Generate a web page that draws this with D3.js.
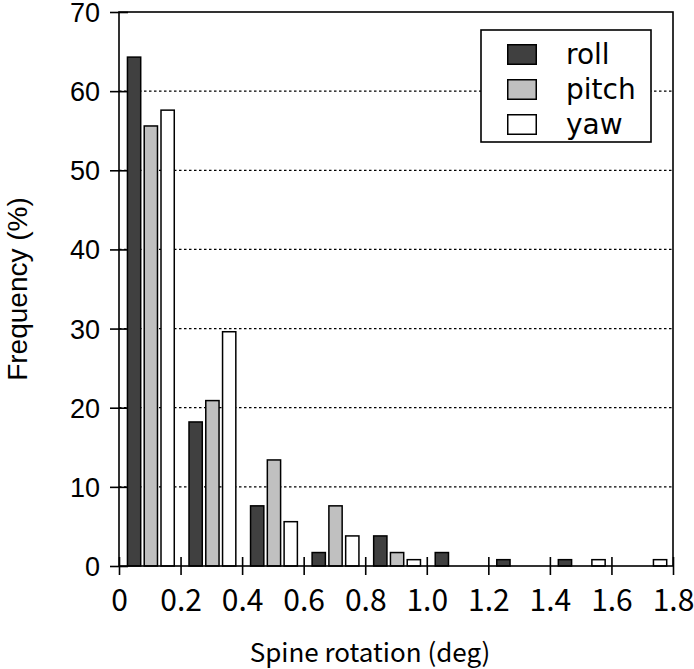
<!DOCTYPE html>
<html lang="en">
	<head>
		<meta charset="utf-8">
		<title>Spine rotation histogram</title>
		<script type="text/javascript" src="https://cdn.jsdelivr.net/npm/d3@7"></script>
		<style type="text/css">
			body {
				margin: 0;
				background-color: #ffffff;
			}
			svg { display: block; }
		</style>
	</head>
	<body>
		<script type="text/javascript">

			//Bin starts (deg), each bin is 0.2 wide
			var binStarts = [0, 0.2, 0.4, 0.6, 0.8, 1.0, 1.2, 1.4, 1.6];

			//Series values (%)
			var series = ["roll", "pitch", "yaw"];
			var roll  = [64.3, 18.2, 7.6, 1.7, 3.8, 1.7, 0.8, 0.8, 0];
			var pitch = [55.6, 20.9, 13.4, 7.6, 1.7, 0, 0, 0, 0];
			var yaw   = [57.6, 29.6, 5.6, 3.8, 0.8, 0, 0, 0.8, 0.8];

			//Tick labels
			var xTicks = [0, 0.2, 0.4, 0.6, 0.8, 1.0, 1.2, 1.4, 1.6, 1.8];
			var yTicks = [0, 10, 20, 30, 40, 50, 60, 70];

			var colors = {roll: "#404040", pitch: "#c0c0c0", yaw: "#ffffff"};
			var values = {roll: roll, pitch: pitch, yaw: yaw};

			//Width and height
			var w = 694;
			var h = 669;
			var pLeft = 119, pRight = 673, pTop = 12, pBottom = 566;

			var svg = d3.select("body")
						.append("svg")
						.attr("width", w)
						.attr("height", h);

			var xScale = d3.scaleLinear()
						   .domain([0, 1.8])
						   .range([pLeft, pRight]);

			var yScale = d3.scaleLinear()
						   .domain([0, 70])
						   .range([pBottom, pTop]);

			//Bars inside one bin
			var inner = d3.scaleBand()
						  .domain(series)
						  .range([xScale(0.025) - xScale(0), xScale(0.182) - xScale(0)])
						  .paddingInner(0.12);

			//Dotted grid lines
			svg.append("g")
				.selectAll("line")
				.data(yTicks.filter(function(d) { return d > 0 && d < 70; }))
				.enter()
				.append("line")
				.attr("x1", pLeft)
				.attr("x2", pRight)
				.attr("y1", function(d) { return yScale(d); })
				.attr("y2", function(d) { return yScale(d); })
				.attr("stroke", "#000")
				.attr("stroke-width", 1.2)
				.attr("stroke-dasharray", "2.5,2.5");

			//Flatten data for bars
			var bars = [];
			binStarts.forEach(function(b, i) {
				series.forEach(function(s) {
					if (values[s][i] > 0) {
						bars.push({bin: b, key: s, value: values[s][i]});
					}
				});
			});

			var sw = 1.5;
			svg.append("g")
				.selectAll("rect")
				.data(bars)
				.enter()
				.append("rect")
				.attr("x", function(d) { return xScale(d.bin) + inner(d.key) + sw / 2; })
				.attr("y", function(d) { return yScale(d.value); })
				.attr("width", inner.bandwidth() - sw)
				.attr("height", function(d) { return yScale(0) - yScale(d.value); })
				.attr("fill", function(d) { return colors[d.key]; })
				.attr("stroke", "#000")
				.attr("stroke-width", sw);

			//Plot frame
			svg.append("rect")
				.attr("x", pLeft)
				.attr("y", pTop)
				.attr("width", pRight - pLeft)
				.attr("height", pBottom - pTop)
				.attr("fill", "none")
				.attr("stroke", "#000")
				.attr("stroke-width", 1.6);

			//X axis
			var xAxis = d3.axisBottom(xScale)
						  .tickValues(xTicks)
						  .tickSize(9)
						  .tickFormat(function(d) { return d === 0 ? "0" : d3.format(".1f")(d); });

			var gx = svg.append("g")
				.attr("transform", "translate(0," + pBottom + ")")
				.call(xAxis);
			gx.select(".domain").remove();
			gx.selectAll(".tick line")
				.attr("y1", -9)
				.attr("stroke-width", 1.6);
			gx.selectAll(".tick text")
				.attr("y", 45)
				.attr("dy", 0)
				.attr("font-family", "'Noto Sans CJK JP', sans-serif")
				.attr("font-size", "30px")
				.attr("fill", "#000");

			//Y axis
			var yAxis = d3.axisLeft(yScale)
						  .tickValues(yTicks)
						  .tickSize(9);

			var gy = svg.append("g")
				.attr("transform", "translate(" + pLeft + ",0)")
				.call(yAxis);
			gy.select(".domain").remove();
			gy.selectAll(".tick line")
				.attr("x1", 9)
				.attr("stroke-width", 1.6);
			gy.selectAll(".tick text")
				.attr("x", -19)
				.attr("dy", "0.35em")
				.attr("font-family", "'Liberation Sans', Arial, sans-serif")
				.attr("font-size", "27px")
				.attr("fill", "#000");

			//Axis titles
			svg.append("text")
				.attr("x", (pLeft + pRight) / 2 - 26)
				.attr("y", 662)
				.attr("text-anchor", "middle")
				.attr("font-family", "'Noto Sans CJK JP', sans-serif")
				.attr("font-size", "26px")
				.attr("fill", "#000")
				.text("Spine rotation (deg)");

			svg.append("text")
				.attr("transform", "translate(27," + ((pTop + pBottom) / 2) + ") rotate(-90)")
				.attr("text-anchor", "middle")
				.attr("font-family", "'Liberation Sans', Arial, sans-serif")
				.attr("font-size", "28px")
				.attr("fill", "#000")
				.text("Frequency (%)");

			//Legend
			var legend = svg.append("g");
			legend.append("rect")
				.attr("x", 481)
				.attr("y", 30)
				.attr("width", 170)
				.attr("height", 112)
				.attr("fill", "#fff")
				.attr("stroke", "#000")
				.attr("stroke-width", 1.6);

			var items = legend.selectAll("g.item")
				.data(series)
				.enter()
				.append("g")
				.attr("class", "item")
				.attr("transform", function(d, i) { return "translate(507," + (44 + i * 35) + ")"; });

			items.append("rect")
				.attr("x", 0.75)
				.attr("y", 0.75)
				.attr("width", 28.5)
				.attr("height", 19.5)
				.attr("fill", function(d) { return colors[d]; })
				.attr("stroke", "#000")
				.attr("stroke-width", 1.5);

			items.append("text")
				.attr("x", 59)
				.attr("y", 20)
				.attr("font-family", "'DejaVu Sans', sans-serif")
				.attr("font-size", "28px")
				.attr("fill", "#000")
				.text(function(d) { return d; });

		</script>
	</body>
</html>
